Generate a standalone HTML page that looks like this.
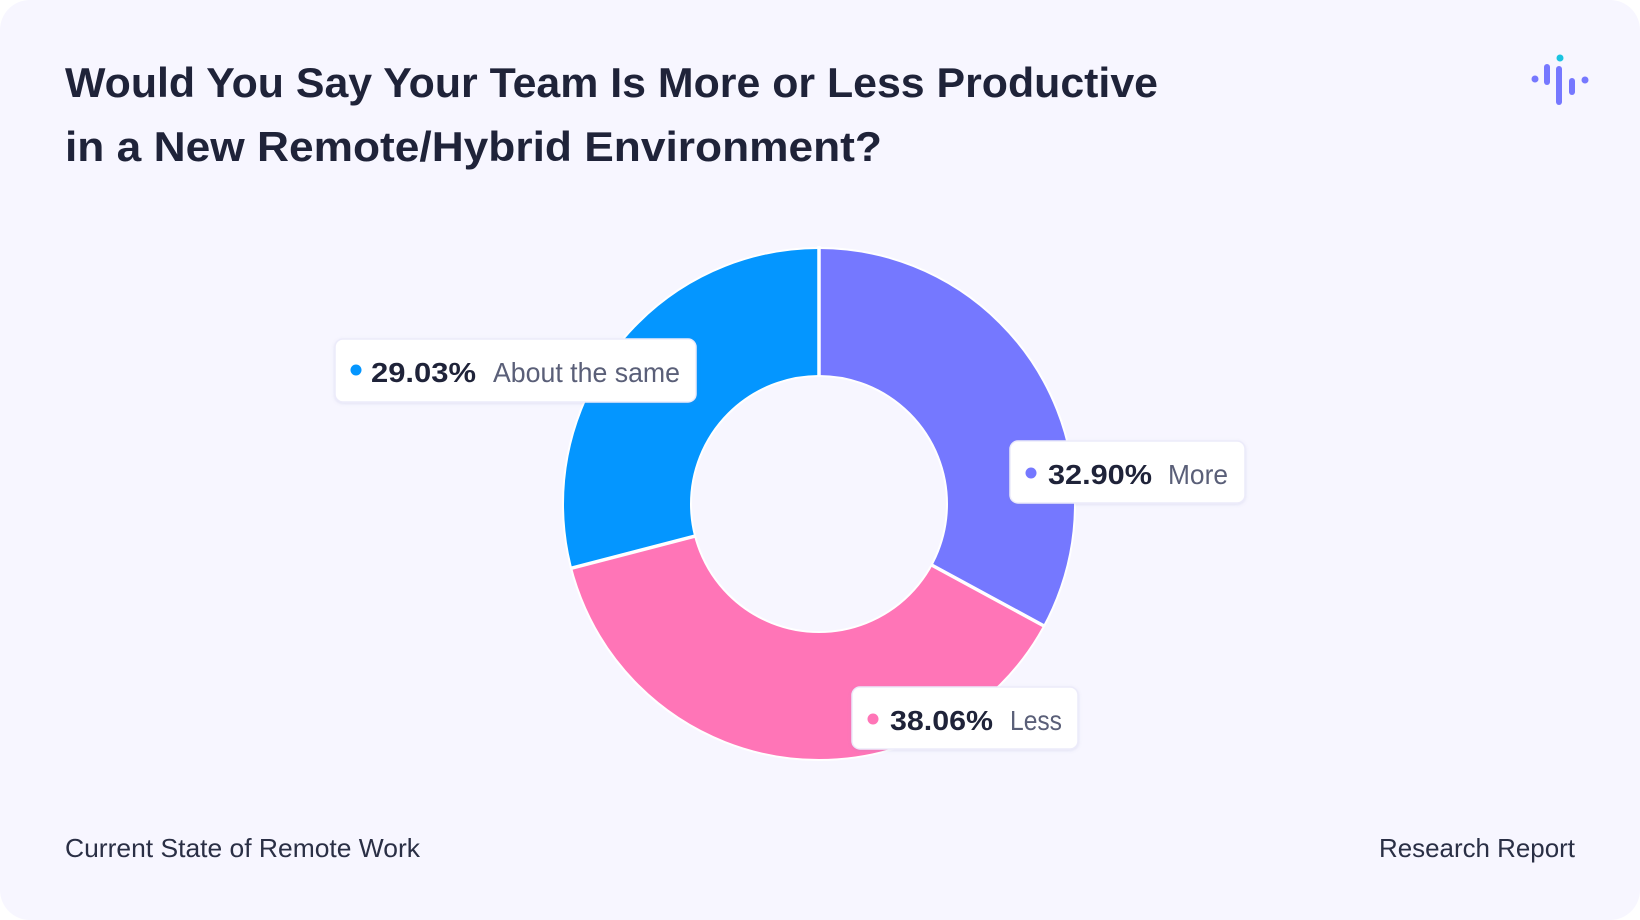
<!DOCTYPE html>
<html><head><meta charset="utf-8"><style>
html,body{margin:0;padding:0;background:#fff;}
svg{display:block;font-family:"Liberation Sans",sans-serif;}
</style></head><body>
<svg width="1640" height="920" viewBox="0 0 1640 920" xmlns="http://www.w3.org/2000/svg">
<defs><filter id="sh" x="-10%" y="-20%" width="120%" height="150%"><feDropShadow dx="0" dy="1" stdDeviation="1.5" flood-color="#7b7fc0" flood-opacity="0.18"/></filter></defs>
<rect x="0" y="0" width="1640" height="920" rx="30" fill="#F7F6FF"/>
<text x="65" y="97" font-size="42" font-weight="bold" fill="#1F2339" textLength="1093" lengthAdjust="spacingAndGlyphs">Would You Say Your Team Is More or Less Productive</text>
<text x="65" y="161" font-size="42" font-weight="bold" fill="#1F2339" textLength="817" lengthAdjust="spacingAndGlyphs">in a New Remote/Hybrid Environment?</text>
<!-- logo -->
<g stroke="#7678FF" stroke-linecap="round" stroke-width="6">
<line x1="1547" y1="67" x2="1547" y2="82"/><line x1="1559" y1="69" x2="1559" y2="102"/><line x1="1572" y1="81" x2="1572" y2="92"/>
</g>
<circle cx="1535" cy="79" r="3.5" fill="#7678FF"/><circle cx="1585" cy="80" r="3.5" fill="#7678FF"/><circle cx="1560" cy="58" r="3.5" fill="#1BC4E0"/>
<!-- donut -->
<g transform="rotate(-90 819 504)" fill="none" stroke-width="128">
<circle cx="819" cy="504" r="192" stroke="#7578FF" stroke-dasharray="396.9 2000" stroke-dashoffset="0"/>
<circle cx="819" cy="504" r="192" stroke="#FF75B7" stroke-dasharray="459.1 2000" stroke-dashoffset="-396.9"/>
<circle cx="819" cy="504" r="192" stroke="#0496FF" stroke-dasharray="350.4 2000" stroke-dashoffset="-856"/>
</g>
<circle cx="819" cy="504" r="256" fill="none" stroke="#fff" stroke-width="2"/>
<circle cx="819" cy="504" r="128" fill="#F7F6FF" stroke="#fff" stroke-width="2"/>
<g stroke="#fff" stroke-width="3.5">
<line x1="819" y1="377" x2="819" y2="246"/>
<line x1="931.6" y1="565" x2="1045" y2="626.5"/>
<line x1="695.1" y1="536.1" x2="570" y2="568.6"/>
</g>
<!-- labels -->
<g filter="url(#sh)" fill="#fff" stroke="#ECEBFA" stroke-width="1.5">
<rect x="335" y="339" width="361" height="63" rx="8"/>
<rect x="1010" y="441" width="235" height="62" rx="8"/>
<rect x="852" y="687" width="226" height="62" rx="8"/>
</g>
<g font-size="28">
<circle cx="356" cy="370" r="5.5" fill="#0496FF"/>
<text x="371" y="382" font-weight="bold" fill="#1F2339" textLength="105" lengthAdjust="spacingAndGlyphs">29.03%</text>
<text x="493" y="382" fill="#5A5F78" textLength="187" lengthAdjust="spacingAndGlyphs">About the same</text>
<circle cx="1031" cy="473" r="5.5" fill="#7578FF"/>
<text x="1048" y="484" font-weight="bold" fill="#1F2339" textLength="104" lengthAdjust="spacingAndGlyphs">32.90%</text>
<text x="1168" y="484" fill="#5A5F78" textLength="60" lengthAdjust="spacingAndGlyphs">More</text>
<circle cx="873" cy="719" r="5.5" fill="#FF75B7"/>
<text x="890" y="730" font-weight="bold" fill="#1F2339" textLength="103" lengthAdjust="spacingAndGlyphs">38.06%</text>
<text x="1010" y="730" fill="#5A5F78" textLength="52" lengthAdjust="spacingAndGlyphs">Less</text>
</g>
<text x="65" y="857" font-size="26" fill="#2A2F45" textLength="355" lengthAdjust="spacingAndGlyphs">Current State of Remote Work</text>
<text x="1379" y="857" font-size="26" fill="#2A2F45" textLength="196" lengthAdjust="spacingAndGlyphs">Research Report</text>
</svg>
</body></html>
